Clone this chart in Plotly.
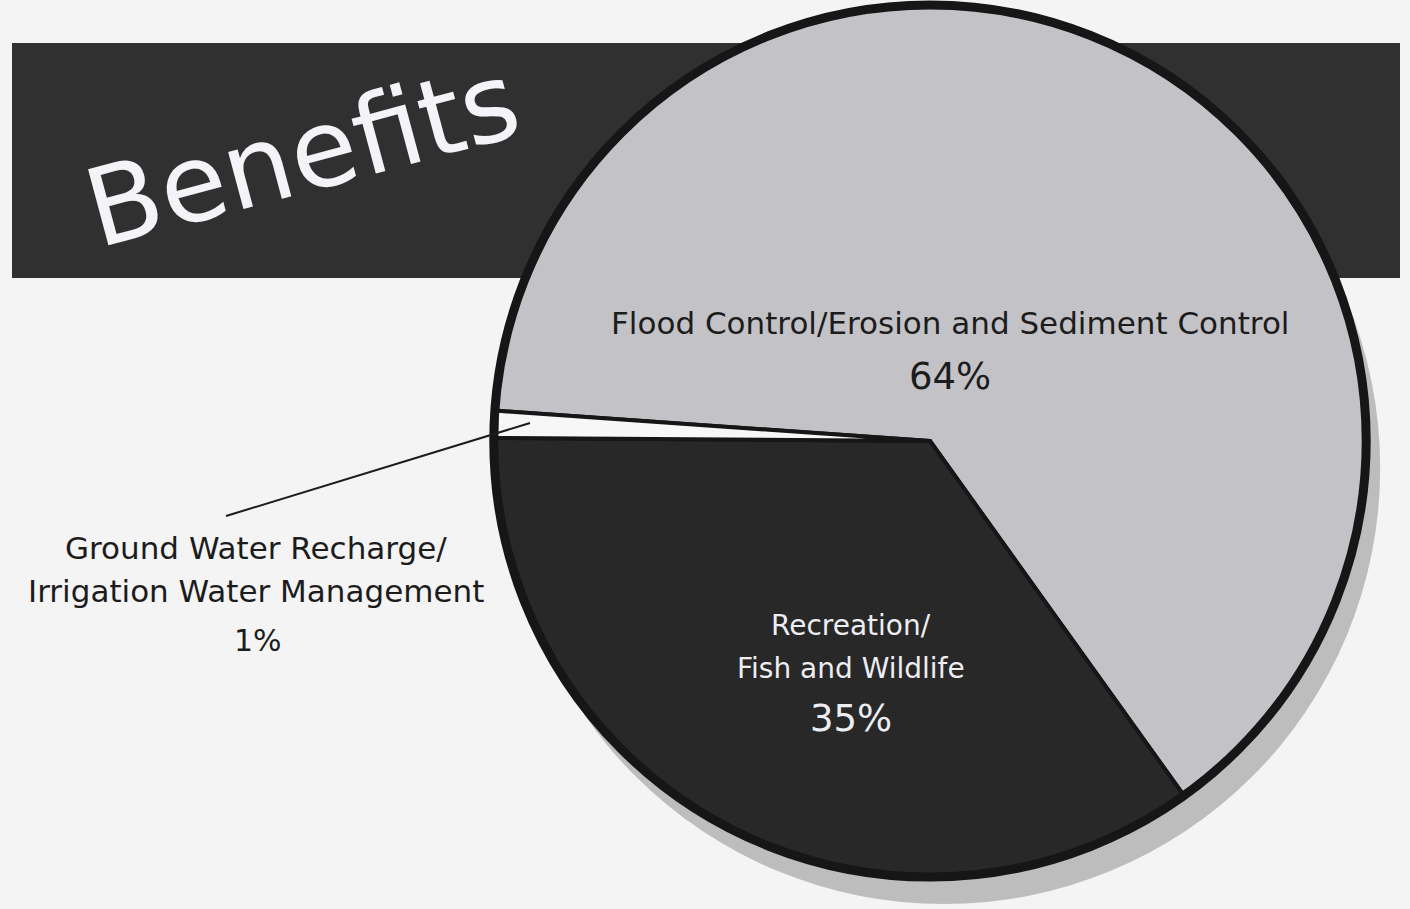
import plotly.graph_objects as go

# ---- data ----
categories = [
    "Flood Control/Erosion and Sediment Control",
    "Recreation/<br>Fish and Wildlife",
    "Ground Water Recharge/<br>Irrigation Water Management",
]
shares = [64, 35, 1]
slice_colors = ["#c3c3c7", "#282828", "#f7f7f7"]
title_text = "Benefits"

W, H = 1410, 909
FONT = "DejaVu Sans"

def px(x):
    return x / W

def py(y):
    return 1 - y / H

# pie square in pixels
cx, cy, r = 930, 441, 436
dom_x = [px(cx - r), px(cx + r)]
dom_y = [py(cy + r), py(cy - r)]
sdx, sdy = 14, 27
shadow_x = [px(cx - r + sdx), px(cx + r + sdx)]
shadow_y = [py(cy + r + sdy), py(cy - r + sdy)]

fig = go.Figure()

# drop shadow
fig.add_trace(go.Pie(
    values=[sum(shares)], labels=["shadow"], domain=dict(x=shadow_x, y=shadow_y),
    marker=dict(colors=["#bdbdbd"], line=dict(width=0)),
    textinfo="none", hoverinfo="skip", showlegend=False, sort=False,
))

# main pie
fig.add_trace(go.Pie(
    values=shares, labels=[c.replace("<br>", " ") for c in categories],
    domain=dict(x=dom_x, y=dom_y),
    marker=dict(colors=slice_colors, line=dict(color="#161616", width=4)),
    direction="clockwise", rotation=-86, sort=False,
    textinfo="none", showlegend=False,
))

# thick outer ring
fig.add_trace(go.Pie(
    values=[sum(shares)], labels=["ring"], domain=dict(x=dom_x, y=dom_y),
    marker=dict(colors=["rgba(0,0,0,0)"], line=dict(color="#161616", width=9)),
    textinfo="none", hoverinfo="skip", showlegend=False, sort=False,
))


def label_lines(text, x, y0, step, size, color):
    out = []
    for i, line in enumerate(text.split("<br>")):
        out.append(dict(x=px(x), y=py(y0 + i * step), text=line,
                        font=dict(family=FONT, size=size, color=color),
                        showarrow=False, xanchor="center", yanchor="middle"))
    return out


annotations = [
    dict(x=px(302), y=py(154), text=title_text, textangle=-15,
         font=dict(family=FONT, size=108, color="#f4f4f8"), showarrow=False,
         xanchor="center", yanchor="middle"),
]
# Flood
annotations += label_lines(categories[0], 950, 323, 0, 31, "#1c1c1c")
annotations += label_lines(f"{shares[0]}%", 950, 376, 0, 37, "#1c1c1c")
# Recreation
annotations += label_lines(categories[1], 851, 625, 43, 28, "#ededf2")
annotations += label_lines(f"{shares[1]}%", 851, 718, 0, 37, "#ededf2")
# Ground water
annotations += label_lines(categories[2], 256, 548, 43, 31, "#1c1c1c")
annotations += label_lines(f"{shares[2]}%", 258, 640, 0, 30, "#1c1c1c")

shapes = [
    # dark banner behind the pie
    dict(type="rect", xref="paper", yref="paper", layer="below",
         x0=px(12), x1=px(1400), y0=py(278), y1=py(43),
         fillcolor="#303030", line=dict(width=0)),
    # leader line for the 1% slice
    dict(type="line", xref="paper", yref="paper", layer="above",
         x0=px(226), y0=py(516), x1=px(530), y1=py(423),
         line=dict(color="#1c1c1c", width=2)),
]

fig.update_layout(
    width=W, height=H,
    margin=dict(l=0, r=0, t=0, b=0),
    paper_bgcolor="#f4f4f4", plot_bgcolor="#f4f4f4",
    annotations=annotations, shapes=shapes,
    showlegend=False,
)

fig.write_html("out.html",
               config={"displayModeBar": False},
               post_script="document.body.style.margin='0px';document.body.style.overflow='hidden';")
